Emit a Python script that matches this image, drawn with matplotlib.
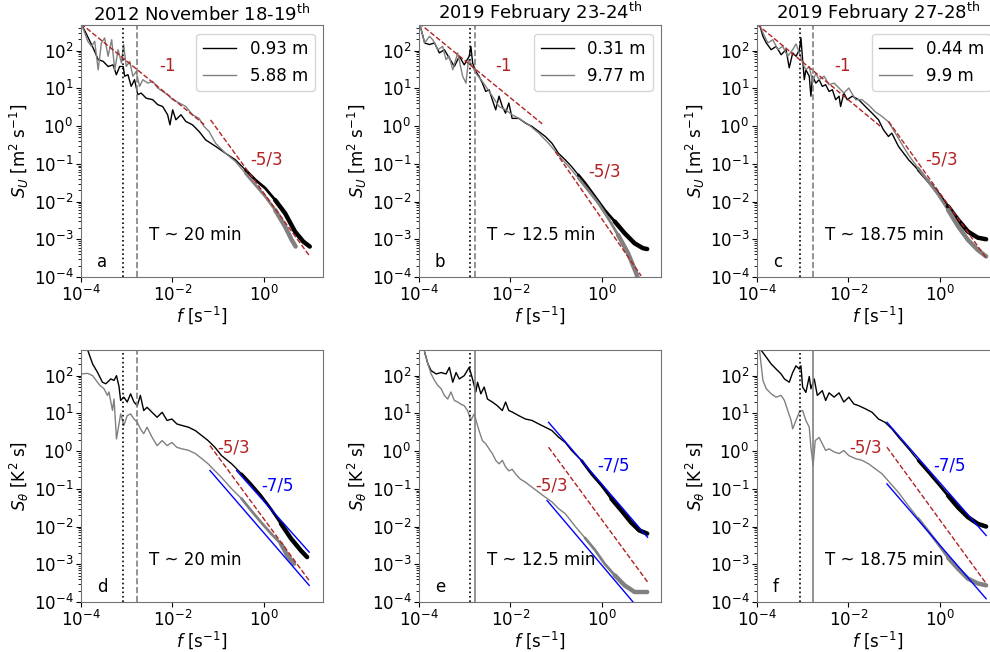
import matplotlib
matplotlib.use("Agg")
import matplotlib.pyplot as plt
import numpy as np

# ---- panel a : S_U, 2012 November 18-19 ----
a_f_k = [1.03e-4, 1.28e-4, 1.57e-4, 1.92e-4, 2.38e-4, 3.06e-4, 3.93e-4, 5.04e-4, 5.96e-4, 7.04e-4,
         8.4e-4, 9.06e-4, 1.07e-3, 1.26e-3, 1.49e-3, 1.76e-3, 2.08e-3, 2.68e-3, 3.74e-3, 4.8e-3,
         6.16e-3, 7.9e-3, 8.9e-3, 1.02e-2, 1.2e-2, 1.55e-2, 1.98e-2, 2.77e-2, 3.87e-2, 5.4e-2,
         8.9e-2, 0.147, 0.242, 0.4, 0.66, 1.09, 1.79, 2.96, 4.88, 7.4, 10.3]
a_S_k = [490, 295, 177, 106, 58, 52, 38, 42, 23, 38,
         38, 21, 23, 11.3, 17, 6.8, 7.5, 5.5, 5.0, 3.7,
         3.3, 2.0, 1.08, 2.7, 1.47, 2.0, 1.33, 1.08, 0.72, 0.43,
         0.29, 0.19, 0.128, 0.069, 0.0376, 0.0226, 0.011, 0.0049, 1.6e-3, 8.7e-4, 6.4e-4]
a_f_g = [1.03e-4, 1.18e-4, 1.4e-4, 1.7e-4, 2.0e-4, 2.38e-4, 2.8e-4, 3.3e-4, 3.93e-4, 4.7e-4,
         5.5e-4, 6.5e-4, 7.7e-4, 8.6e-4, 9.8e-4, 1.17e-3, 1.37e-3, 1.62e-3, 1.92e-3, 2.27e-3,
         2.9e-3, 3.74e-3, 4.8e-3, 6.16e-3, 7.9e-3, 1.02e-2, 1.42e-2, 1.98e-2, 2.77e-2, 3.87e-2,
         4.97e-2, 6.4e-2, 8.9e-2, 0.147, 0.242, 0.4, 0.66, 1.09, 1.79, 2.96, 4.13, 5.05]
a_S_g = [490, 320, 180, 130, 177, 31, 160, 217, 71, 195,
         31, 106, 47, 145, 38, 52, 21, 28, 11.3, 17,
         13.8, 15.3, 10.2, 8.3, 6.8, 5.0, 4.1, 3.3, 2.0, 1.6,
         0.98, 0.72, 0.35, 0.19, 0.115, 0.056, 0.0277, 0.0136, 6.0e-3, 2.17e-3, 9.6e-4, 6.4e-4]

# ---- panel b : S_U, 2019 February 23-24 ----
b_f_k = [1.05e-4, 1.33e-4, 1.7e-4, 2.19e-4, 2.8e-4, 3.6e-4, 4.6e-4, 5.96e-4, 7.65e-4, 9.8e-4,
         1.26e-3, 1.37e-3, 1.5e-3, 1.76e-3, 2.07e-3, 2.45e-3, 2.9e-3, 3.43e-3, 4.05e-3, 4.8e-3,
         5.67e-3, 6.7e-3, 7.9e-3, 9.3e-3, 1.1e-2, 1.54e-2, 2.15e-2, 3.0e-2, 4.2e-2, 5.86e-2,
         8.2e-2, 0.114, 0.16, 0.22, 0.31, 0.434, 0.716, 1.17, 1.95, 3.2, 5.3, 8.05, 10]
b_S_k = [490, 160, 145, 160, 87, 106, 64, 38, 71, 42,
         71, 130, 47, 28, 21, 13.8, 8.3, 9.2, 5.0, 2.7,
         6.2, 3.3, 2.2, 4.1, 1.6, 1.6, 1.2, 0.98, 0.72, 0.53,
         0.35, 0.19, 0.128, 0.085, 0.051, 0.031, 0.0136, 6.0e-3, 2.95e-3, 1.45e-3, 7.8e-4, 5.8e-4, 5.5e-4]
b_f_g = [1.05e-4, 1.33e-4, 1.7e-4, 2.0e-4, 2.6e-4, 3.3e-4, 3.9e-4, 4.6e-4, 5.5e-4, 7.05e-4,
         9.06e-4, 1.07e-3, 1.22e-3, 1.5e-3, 1.76e-3, 2.3e-3, 2.9e-3, 4.05e-3, 5.67e-3, 7.9e-3,
         1.1e-2, 1.54e-2, 2.55e-2, 4.2e-2, 6.9e-2, 0.114, 0.19, 0.31, 0.51, 0.85,
         1.4, 2.3, 3.8, 5.76, 6.3]
b_S_g = [490, 160, 240, 195, 106, 130, 58, 71, 31, 87,
         21, 13.8, 58, 38, 25, 17, 11.3, 6.2, 3.3, 2.7,
         2.0, 1.6, 1.08, 0.65, 0.35, 0.17, 0.085, 0.042, 0.020, 9.0e-3,
         3.6e-3, 1.3e-3, 4.3e-4, 1.25e-4, 9e-5]

# ---- panel c : S_U, 2019 February 27-28 ----
c_f_k = [1.14e-4, 1.35e-4, 1.6e-4, 2.05e-4, 2.63e-4, 3.38e-4, 4.34e-4, 5.1e-4, 6.06e-4, 7.2e-4,
         8.5e-4, 9.2e-4, 1.0e-3, 1.09e-3, 1.18e-3, 1.4e-3, 1.52e-3, 1.65e-3, 1.95e-3, 2.3e-3,
         2.7e-3, 3.2e-3, 3.8e-3, 4.5e-3, 5.3e-3, 6.3e-3, 6.8e-3, 8.0e-3, 9.5e-3, 1.22e-2,
         1.7e-2, 2.38e-2, 3.33e-2, 4.6e-2, 5.9e-2, 7.6e-2, 0.09, 0.126, 0.21, 0.34,
         0.57, 0.94, 1.54, 2.55, 4.2, 6.9, 10.5]
c_S_k = [490, 240, 160, 106, 130, 78, 106, 35, 87, 71,
         106, 217, 58, 17, 31, 21, 6.2, 21, 13.8, 17,
         11.3, 12.5, 8.3, 9.2, 5.0, 6.2, 3.3, 7.5, 5.0, 6.2,
         5.0, 3.3, 2.2, 1.47, 0.8, 0.53, 0.65, 0.29, 0.128, 0.069,
         0.034, 0.0166, 7.4e-3, 3.26e-3, 1.6e-3, 1.1e-3, 1.0e-3]
c_f_g = [1.14e-4, 1.35e-4, 1.73e-4, 2.23e-4, 2.86e-4, 3.67e-4, 4.72e-4, 6.06e-4, 7.17e-4, 8.5e-4,
         1.0e-3, 1.18e-3, 1.4e-3, 1.65e-3, 1.95e-3, 2.3e-3, 2.96e-3, 3.8e-3, 4.9e-3, 6.3e-3,
         8.0e-3, 1.03e-2, 1.45e-2, 2.0e-2, 2.8e-2, 3.9e-2, 5.5e-2, 7.6e-2, 0.107, 0.15,
         0.21, 0.34, 0.57, 0.94, 1.54, 2.55, 4.2, 6.9, 10.5]
c_S_g = [490, 300, 160, 195, 106, 130, 71, 106, 150, 87,
         47, 31, 38, 15, 25, 17, 21, 12.5, 13.8, 10.2,
         7.5, 10.2, 5.0, 5.0, 3.6, 2.4, 1.8, 1.3, 0.66, 0.33,
         0.17, 0.077, 0.034, 0.015, 6.0e-3, 2.2e-3, 9.6e-4, 5.2e-4, 3.5e-4]

# ---- panel d : S_theta, 2012 November 18-19 ----
d_f_k = [1.4e-4, 1.8e-4, 2.3e-4, 2.95e-4, 3.5e-4, 4.5e-4, 5.3e-4, 6.0e-4, 6.8e-4, 7.4e-4,
         8.7e-4, 1.03e-3, 1.22e-3, 1.45e-3, 1.71e-3, 2.0e-3, 2.37e-3, 2.8e-3, 3.6e-3, 4.65e-3,
         6.0e-3, 7.7e-3, 9.8e-3, 1.26e-2, 1.62e-2, 2.27e-2, 3.2e-2, 4.45e-2, 6.1e-2, 8.6e-2,
         0.12, 0.2, 0.33, 0.53, 0.88, 1.46, 2.4, 4.0, 6.6, 9.0]
d_S_k = [480, 204, 123, 67, 61, 82, 75, 100, 52, 22,
         27, 20, 33, 20, 16, 30, 11.9, 14.5, 10.7, 7.9,
         10.7, 6.5, 7.1, 5.25, 4.8, 4.3, 3.5, 2.57, 1.9, 1.26,
         0.76, 0.46, 0.25, 0.135, 0.066, 0.029, 0.012, 4.8e-3, 2.3e-3, 1.55e-3]
d_f_g = [1e-4, 1.4e-4, 1.8e-4, 2.3e-4, 2.6e-4, 3.2e-4, 3.8e-4, 4.1e-4, 4.9e-4, 5.3e-4,
         6.0e-4, 6.8e-4, 7.4e-4, 8.7e-4, 1.03e-3, 1.22e-3, 1.45e-3, 1.71e-3, 2.0e-3, 2.37e-3,
         2.8e-3, 3.6e-3, 4.65e-3, 6.0e-3, 7.7e-3, 9.8e-3, 1.26e-2, 1.62e-2, 2.27e-2, 3.2e-2,
         4.45e-2, 6.1e-2, 8.6e-2, 0.12, 0.2, 0.33, 0.53, 0.88, 1.46, 2.4, 3.3, 4.65]
d_S_g = [111, 115, 100, 67, 55, 45, 30, 37, 12, 24,
         2.1, 5.2, 9.7, 4.8, 8.7, 9.7, 7.1, 5.8, 3.9, 2.9,
         4.3, 2.35, 1.4, 1.9, 1.4, 1.7, 1.26, 1.15, 1.05, 0.86,
         0.63, 0.46, 0.3, 0.2, 0.1, 0.055, 0.027, 0.013, 6.5e-3, 3.5e-3, 1.73e-3, 1.03e-3]

# ---- panel e : S_theta, 2019 February 23-24 ----
e_f_k = [1.33e-4, 1.57e-4, 1.85e-4, 2.38e-4, 3.06e-4, 3.93e-4, 4.64e-4, 5.5e-4, 6.5e-4, 7.65e-4,
         9.8e-4, 1.26e-3, 1.44e-3, 1.62e-3, 1.76e-3, 1.92e-3, 2.27e-3, 2.68e-3, 3.17e-3, 4.05e-3,
         5.2e-3, 6.7e-3, 7.9e-3, 9.3e-3, 1.1e-2, 1.54e-2, 2.15e-2, 3.0e-2, 4.2e-2, 5.86e-2,
         8.2e-2, 0.114, 0.16, 0.22, 0.366, 0.6, 1.0, 1.64, 2.7, 4.4, 6.7, 10]
e_S_k = [420, 204, 136, 111, 121, 111, 166, 67, 121, 82,
         100, 166, 95, 55, 37, 67, 33, 50, 24, 20,
         16, 11.9, 20, 11.9, 10.9, 8.7, 7.1, 6.5, 5.25, 4.3,
         3.5, 2.35, 1.7, 1.04, 0.56, 0.25, 0.123, 0.055, 0.027, 0.013, 7.9e-3, 6.5e-3]
e_f_g = [1.33e-4, 1.57e-4, 1.85e-4, 2.19e-4, 2.59e-4, 3.06e-4, 3.6e-4, 4.27e-4, 5.0e-4, 5.96e-4,
         7.05e-4, 8.3e-4, 9.8e-4, 1.16e-3, 1.37e-3, 1.62e-3, 2.07e-3, 2.45e-3, 2.9e-3, 3.43e-3,
         4.05e-3, 4.8e-3, 5.67e-3, 6.7e-3, 7.9e-3, 9.3e-3, 1.1e-2, 1.3e-2, 1.67e-2, 2.15e-2,
         3.0e-2, 4.2e-2, 5.86e-2, 8.2e-2, 0.114, 0.16, 0.26, 0.434, 0.716, 1.17,
         1.95, 3.2, 5.3, 10]
e_S_g = [420, 204, 111, 75, 55, 45, 30, 24, 37, 22,
         20, 17.5, 16, 11.9, 6.5, 9.7, 3.5, 1.9, 1.57, 1.15,
         0.86, 0.57, 0.46, 0.57, 0.38, 0.3, 0.33, 0.25, 0.18, 0.15,
         0.11, 0.0815, 0.06, 0.045, 0.03, 0.022, 0.0104, 5.0e-3, 2.4e-3, 1.03e-3,
         5.1e-4, 2.76e-4, 1.84e-4, 1.84e-4]

# ---- panel f : S_theta, 2019 February 27-28 ----
f_f_k = [1.24e-4, 1.6e-4, 2.05e-4, 2.63e-4, 3.38e-4, 4.0e-4, 5.1e-4, 6.06e-4, 7.17e-4, 8.5e-4,
         9.2e-4, 1.0e-3, 1.18e-3, 1.4e-3, 1.52e-3, 1.8e-3, 2.1e-3, 2.7e-3, 3.2e-3, 3.8e-3,
         4.9e-3, 6.3e-3, 8.0e-3, 1.03e-2, 1.33e-2, 1.7e-2, 2.38e-2, 3.33e-2, 4.6e-2, 6.4e-2,
         9.0e-2, 0.126, 0.21, 0.34, 0.57, 0.94, 1.54, 2.55, 4.2, 6.9, 10.5]
f_S_k = [470, 310, 204, 150, 111, 82, 67, 121, 182, 150,
         182, 50, 36, 95, 45, 82, 30, 40, 22, 35,
         27, 35, 20, 27, 17.7, 16, 13.2, 10.7, 7.1, 5.8,
         3.9, 2.35, 1.15, 0.56, 0.275, 0.135, 0.066, 0.032, 0.0177, 0.0118, 0.01]
f_f_g = [1.14e-4, 1.35e-4, 1.6e-4, 2.05e-4, 2.63e-4, 3.38e-4, 4.0e-4, 4.72e-4, 5.6e-4, 6.06e-4,
         7.17e-4, 8.5e-4, 1.0e-3, 1.18e-3, 1.4e-3, 1.52e-3, 1.7e-3, 1.89e-3, 2.3e-3, 2.7e-3,
         3.2e-3, 3.8e-3, 4.9e-3, 6.3e-3, 8.0e-3, 1.03e-2, 1.45e-2, 2.0e-2, 2.8e-2, 3.9e-2,
         5.5e-2, 7.6e-2, 0.126, 0.21, 0.34, 0.57, 0.94, 1.54, 2.55, 4.2, 6.9, 10.5]
f_S_g = [470, 75, 45, 33, 27, 30, 22, 12, 6.5, 3.9,
         6.5, 11, 12, 6.5, 4.3, 1.26, 0.41, 1.9, 2.3, 1.57,
         1.04, 1.15, 0.95, 0.86, 1.04, 0.76, 0.63, 0.57, 0.46, 0.34,
         0.25, 0.16, 0.08, 0.035, 0.0165, 7.5e-3, 3.4e-3, 1.5e-3, 7.6e-4, 4.15e-4, 3.1e-4, 2.76e-4]

# reference slopes: (f0, f1), (S0, S1)
ref_m1 = {"a": ([1e-4, 0.05], [520, 1.1]), "b": ([1e-4, 0.05], [540, 1.15]), "c": ([1e-4, 0.05], [500, 1.0])}
ref_53 = {"a": ([0.069, 10.35], [1.46, 3.5e-4]), "b": ([0.097, 7.4], [0.21, 1.07e-4]),
          "c": ([0.0766, 10.5], [1.33, 3.2e-4]), "d": ([0.067, 10], [1.4, 3.7e-4]),
          "e": ([0.069, 10.2], [1.27, 3.4e-4]), "f": ([0.0705, 10.5], [1.27, 3.1e-4])}
ref_75k = {"d": ([0.255, 10], [0.306, 2.1e-3]), "e": ([0.069, 10.2], [5.8, 5.2e-3]),
           "f": ([0.0705, 10.5], [5.8, 5.8e-3])}
ref_75g = {"d": ([0.067, 10], [0.306, 2.76e-4]), "e": ([0.064, 4.9], [0.049, 1e-4]),
           "f": ([0.0705, 10.5], [0.135, 1.22e-4])}

# label positions (data coords)
txt_m1 = {"a": (7.9e-3, 38), "b": (7.2e-3, 38), "c": (7.4e-3, 38)}
txt_53 = {"a": (1.18, 0.128), "b": (1.18, 0.063), "c": (1.1, 0.128),
          "d": (0.215, 1.27), "e": (0.082, 0.123), "f": (0.024, 1.27)}
txt_75 = {"d": (2.04, 0.123), "e": (1.8, 0.41), "f": (1.68, 0.41)}

titles = ["2012 November 18-19$^{\\mathrm{th}}$", "2019 February 23-24$^{\\mathrm{th}}$",
          "2019 February 27-28$^{\\mathrm{th}}$"]
heights = [("0.93 m", "5.88 m"), ("0.31 m", "9.77 m"), ("0.44 m", "9.9 m")]
T_text = ["T ~ 20 min", "T ~ 12.5 min", "T ~ 18.75 min"]
T_freq = [1 / 1200, 1 / 750, 1 / 1125]
f_10min = 1 / 600

curves = {"a": (a_f_k, a_S_k, a_f_g, a_S_g), "b": (b_f_k, b_S_k, b_f_g, b_S_g),
          "c": (c_f_k, c_S_k, c_f_g, c_S_g), "d": (d_f_k, d_S_k, d_f_g, d_S_g),
          "e": (e_f_k, e_S_k, e_f_g, e_S_g), "f": (f_f_k, f_S_k, f_f_g, f_S_g)}

RED = "#b22222"
plt.rcParams["font.size"] = 12

fig = plt.figure(figsize=(9.9, 6.52), dpi=100)
lefts = [0.0818, 0.4232, 0.7646]
bottoms = [0.5752, 0.0767]
W, H = 0.2444, 0.386

for row in range(2):
    for col in range(3):
        key = "abcdef"[row * 3 + col]
        ax = fig.add_axes([lefts[col], bottoms[row], W, H])
        fk, Sk, fg, Sg = curves[key]
        fk, Sk, fg, Sg = map(np.array, (fk, Sk, fg, Sg))

        l1, = ax.plot(fk, Sk, color="black", lw=1.0, label=heights[col][0])
        l2, = ax.plot(fg, Sg, color="gray", lw=1.0, label=heights[col][1])
        # noisy high-frequency tail appears as a thick band
        for fmin, lw in [(0.3, 2.0), (1.5, 3.2)]:
            ax.plot(fk[fk >= fmin], Sk[fk >= fmin], color="black", lw=lw, solid_capstyle="round")
            ax.plot(fg[fg >= fmin], Sg[fg >= fmin], color="gray", lw=lw, solid_capstyle="round")

        ax.axvline(T_freq[col], color="black", ls=":", lw=1.2)
        if key in "abcd":
            ax.axvline(f_10min, color="gray", ls="--", lw=1.2)
        else:
            ax.axvline(f_10min, color="gray", ls="-", lw=1.2)

        if row == 0:
            fx, Sy = ref_m1[key]
            ax.plot(fx, Sy, color=RED, ls="--", lw=1)
            ax.text(*txt_m1[key], "-1", color=RED, ha="center", va="center")
        fx, Sy = ref_53[key]
        ax.plot(fx, Sy, color=RED, ls="--", lw=1)
        ax.text(*txt_53[key], "-5/3", color=RED, ha="center", va="center")
        if row == 1:
            fx, Sy = ref_75k[key]
            ax.plot(fx, Sy, color="blue", lw=1)
            fx, Sy = ref_75g[key]
            ax.plot(fx, Sy, color="blue", lw=1)
            ax.text(*txt_75[key], "-7/5", color="blue", ha="center", va="center")

        ax.text(0.28, 0.165, T_text[col], transform=ax.transAxes, ha="left", va="center")
        ax.text(0.065, 0.06, key, transform=ax.transAxes, ha="left", va="center")

        ax.set_xscale("log")
        ax.set_yscale("log")
        ax.set_xlim(1e-4, 20)
        ax.set_ylim(1e-4, 470)
        ax.set_xticks([1e-4, 1e-2, 1e0])
        ax.set_yticks([1e-4, 1e-3, 1e-2, 1e-1, 1e0, 1e1, 1e2])
        ax.tick_params(labelsize=12, pad=2)
        for sp in ax.spines.values():
            sp.set_color("0.45")
        ax.set_xlabel("$f$ [s$^{-1}$]", labelpad=0)
        if row == 0:
            ax.set_ylabel("$S_U$ [m$^2$ s$^{-1}$]", labelpad=2)
            ax.set_title(titles[col], fontsize=13, pad=3)
            ax.legend(handles=[l1, l2], loc="upper right", fontsize=12)
        else:
            ax.set_ylabel("$S_\\theta$ [K$^2$ s]", labelpad=2)

fig.savefig("out.png", dpi=100)
